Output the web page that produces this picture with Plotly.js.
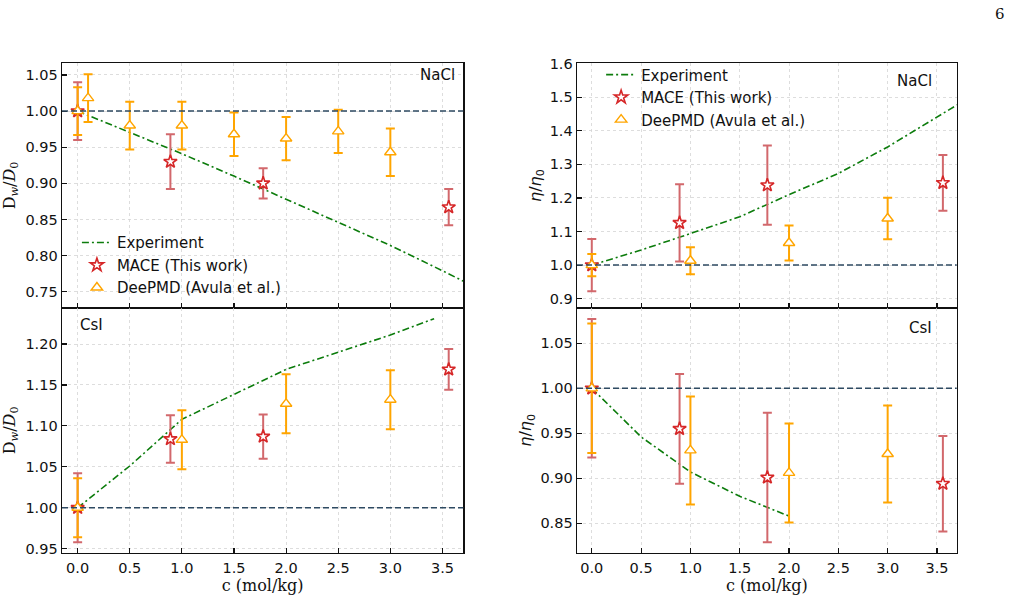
<!DOCTYPE html>
<html><head><meta charset="utf-8">
<script src="https://cdn.plot.ly/plotly-3.0.1.min.js"></script>
<style>html,body{margin:0;padding:0;background:#fff}</style>
</head><body><div id="chart" style="width:1012px;height:596px"></div>
<script>
// ---- NaCl, diffusion (top-left) ----
const naclD_expX = [0, 0.5, 1.0, 1.5, 2.0, 2.5, 3.0, 3.5, 4.0];
const naclD_expY = [1.0, 0.971, 0.941, 0.910, 0.878, 0.846, 0.814, 0.779, 0.743];
const naclD_maceX = [0, 0.89, 1.78, 3.56];
const naclD_maceY = [1.0, 0.930, 0.900, 0.867];
const naclD_maceErr = [0.040, 0.038, 0.021, 0.025];
const naclD_dpX = [0, 0.1, 0.5, 1.0, 1.5, 2.0, 2.5, 3.0];
const naclD_dpY = [1.0, 1.018, 0.980, 0.980, 0.968, 0.962, 0.972, 0.943];
const naclD_dpErr = [0.033, 0.033, 0.033, 0.033, 0.030, 0.030, 0.030, 0.033];

// ---- NaCl, viscosity (top-right) ----
const naclV_expX = [0, 0.5, 1.0, 1.5, 2.0, 2.5, 3.0, 3.5, 4.0];
const naclV_expY = [1.0, 1.045, 1.094, 1.144, 1.210, 1.273, 1.352, 1.440, 1.530];
const naclV_maceX = [0, 0.89, 1.78, 3.56];
const naclV_maceY = [1.0, 1.126, 1.238, 1.245];
const naclV_maceErr = [0.078, 0.115, 0.118, 0.083];
const naclV_dpX = [0, 1.0, 2.0, 3.0];
const naclV_dpY = [1.0, 1.013, 1.066, 1.139];
const naclV_dpErr = [0.033, 0.040, 0.052, 0.062];

// ---- CsI, diffusion (bottom-left) ----
const csiD_expX = [0, 0.5, 1.0, 1.5, 2.0, 2.5, 3.0, 3.42];
const csiD_expY = [1.0, 1.051, 1.108, 1.139, 1.169, 1.190, 1.211, 1.231];
const csiD_maceX = [0, 0.89, 1.78, 3.56];
const csiD_maceY = [1.0, 1.084, 1.087, 1.169];
const csiD_maceErr = [0.042, 0.029, 0.027, 0.025];
const csiD_dpX = [0, 1.0, 2.0, 3.0];
const csiD_dpY = [1.0, 1.083, 1.127, 1.132];
const csiD_dpErr = [0.036, 0.036, 0.036, 0.036];

// ---- CsI, viscosity (bottom-right) ----
const csiV_expX = [0, 0.5, 1.0, 1.5, 2.0];
const csiV_expY = [1.0, 0.946, 0.907, 0.880, 0.858];
const csiV_maceX = [0, 0.89, 1.78, 3.56];
const csiV_maceY = [1.0, 0.955, 0.901, 0.894];
const csiV_maceErr = [0.077, 0.061, 0.072, 0.053];
const csiV_dpX = [0, 1.0, 2.0, 3.0];
const csiV_dpY = [1.0, 0.931, 0.906, 0.927];
const csiV_dpErr = [0.072, 0.060, 0.055, 0.054];

// tick labels
const xTickVals = [0, 0.5, 1.0, 1.5, 2.0, 2.5, 3.0, 3.5];
const xTickText = ['0.0', '0.5', '1.0', '1.5', '2.0', '2.5', '3.0', '3.5'];
const yTicksNaclD = [0.75, 0.80, 0.85, 0.90, 0.95, 1.00, 1.05];
const yTicksNaclV = [0.9, 1.0, 1.1, 1.2, 1.3, 1.4, 1.5, 1.6];
const yTicksCsiD = [0.95, 1.00, 1.05, 1.10, 1.15, 1.20];
const yTicksCsiV = [0.85, 0.90, 0.95, 1.00, 1.05];

const legendNames = ['Experiment', 'MACE (This work)', 'DeePMD (Avula et al.)'];

const GREEN = '#0c7c0c', RED = '#d62728', REDERR = '#d2686c', ORANGE = '#ffa500';

function panel(xa, ya, ex, ey, mx, my, me, dx, dy, de, legendId, show) {
  return [
    {x: ex, y: ey, xaxis: xa, yaxis: ya, type: 'scatter', mode: 'lines', name: legendNames[0],
     line: {color: GREEN, width: 1.6, dash: '7px,3px,2px,3px'}, legend: legendId, showlegend: show},
    {x: mx, y: my, xaxis: xa, yaxis: ya, type: 'scatter', mode: 'markers', name: legendNames[1],
     marker: {symbol: 'star', size: 10, color: 'white', line: {color: RED, width: 1.6}},
     error_y: {type: 'data', array: me, visible: true, color: REDERR, thickness: 2, width: 4.5},
     legend: legendId, showlegend: show},
    {x: dx, y: dy, xaxis: xa, yaxis: ya, type: 'scatter', mode: 'markers', name: legendNames[2],
     marker: {symbol: 'triangle-up', size: 10, color: 'white', line: {color: ORANGE, width: 1.4}},
     error_y: {type: 'data', array: de, visible: true, color: ORANGE, thickness: 2, width: 4.5},
     legend: legendId, showlegend: show}
  ];
}

const data = [].concat(
  panel('x', 'y', naclD_expX, naclD_expY, naclD_maceX, naclD_maceY, naclD_maceErr, naclD_dpX, naclD_dpY, naclD_dpErr, 'legend', true),
  panel('x2', 'y2', naclV_expX, naclV_expY, naclV_maceX, naclV_maceY, naclV_maceErr, naclV_dpX, naclV_dpY, naclV_dpErr, 'legend2', true),
  panel('x3', 'y3', csiD_expX, csiD_expY, csiD_maceX, csiD_maceY, csiD_maceErr, csiD_dpX, csiD_dpY, csiD_dpErr, 'legend', false),
  panel('x4', 'y4', csiV_expX, csiV_expY, csiV_maceX, csiV_maceY, csiV_maceErr, csiV_dpX, csiV_dpY, csiV_dpErr, 'legend', false)
);

const tickFont = {family: 'DejaVu Sans', size: 14.5, color: '#111'};
const XR = [-0.15, 3.70];

function xaxis(domain, anchor, labels) {
  const a = {domain: domain, anchor: anchor, range: XR, tickvals: xTickVals, ticktext: xTickText,
    showticklabels: labels, ticks: 'inside', ticklen: 5, tickwidth: 1.2, tickcolor: '#111',
    showline: true, mirror: true, linecolor: '#111', linewidth: 1.4,
    showgrid: true, gridcolor: '#d4d4d4', griddash: 'dot', gridwidth: 0.8, zeroline: false,
    tickfont: tickFont, ticklabelstandoff: 1};
  if (labels) a.title = {text: 'c (mol/kg)', font: {family: 'DejaVu Serif', size: 16, color: '#111'}, standoff: 0};
  return a;
}
function yaxis(domain, anchor, range, ticks, fmt, title, standoff) {
  return {domain: domain, anchor: anchor, range: range, tickvals: ticks, tickformat: fmt,
    ticks: 'inside', ticklen: 5, tickwidth: 1.2, tickcolor: '#111',
    showline: true, mirror: true, linecolor: '#111', linewidth: 1.4,
    showgrid: true, gridcolor: '#d4d4d4', griddash: 'dot', gridwidth: 0.8, zeroline: false,
    tickfont: tickFont, ticklabelstandoff: 0,
    title: {text: title, font: {family: 'DejaVu Serif', size: 16, color: '#111'}, standoff: standoff}};
}

const XL = [62/1012, 463.3/1012], XRt = [577/1012, 956.7/1012];
const YT = [1 - 308/596, 1 - 63/596], YB = [1 - 552.7/596, 1 - 308/596];

const DLabel = 'D<sub><i>w</i></sub>/<i>D</i><sub>0</sub>';
const ELabel = '<span style="font-family:DejaVu Sans"><i>η</i>/<i>η</i><sub>0</sub></span>';

function hline(xref, yref) {
  return {type: 'line', xref: xref + ' domain', yref: yref, x0: 0, x1: 1, y0: 1, y1: 1,
    line: {color: '#2e4a62', width: 1.5, dash: '6px,3px'}, layer: 'above'};
}
function label(text, xref, yref, x, y, xa, ya) {
  return {text: text, xref: xref + ' domain', yref: yref + ' domain', x: x, y: y, xanchor: xa, yanchor: ya,
    showarrow: false, font: {family: 'DejaVu Sans', size: 15, color: '#111'}};
}

const layout = {
  width: 1012, height: 596, margin: {l: 0, r: 0, t: 0, b: 0},
  paper_bgcolor: 'white', plot_bgcolor: 'white', showlegend: true,
  xaxis: xaxis(XL, 'y', false),
  yaxis: yaxis(YT, 'x', [0.7274, 1.0666], yTicksNaclD, '.2f', DLabel, 8),
  xaxis2: xaxis(XRt, 'y2', false),
  yaxis2: yaxis(YT, 'x2', [0.8723, 1.602], yTicksNaclV, '.1f', ELabel, 4),
  xaxis3: xaxis(XL, 'y3', true),
  yaxis3: yaxis(YB, 'x3', [0.9451, 1.244], yTicksCsiD, '.2f', DLabel, 8),
  xaxis4: xaxis(XRt, 'y4', true),
  yaxis4: yaxis(YB, 'x4', [0.8173, 1.0893], yTicksCsiV, '.2f', ELabel, 4),
  legend: {x: 0.076, y: 0.4895, xanchor: 'left', yanchor: 'bottom', bgcolor: 'rgba(0,0,0,0)',
    font: {family: 'DejaVu Sans', size: 15, color: '#111'}, tracegroupgap: 0},
  legend2: {x: 0.594, y: 0.902, xanchor: 'left', yanchor: 'top', bgcolor: 'rgba(0,0,0,0)',
    font: {family: 'DejaVu Sans', size: 15, color: '#111'}, tracegroupgap: 0},
  shapes: [hline('x', 'y'), hline('x2', 'y2'), hline('x3', 'y3'), hline('x4', 'y4')],
  annotations: [
    label('NaCl', 'x', 'y', 0.985, 0.995, 'right', 'top'),
    label('NaCl', 'x2', 'y2', 0.94, 0.97, 'right', 'top'),
    label('CsI', 'x3', 'y3', 0.04, 0.975, 'left', 'top'),
    label('CsI', 'x4', 'y4', 0.94, 0.965, 'right', 'top'),
    {text: '6', xref: 'paper', yref: 'paper', x: 1000/1012, y: 1 - 14/596, xanchor: 'center', yanchor: 'middle',
     showarrow: false, font: {family: 'DejaVu Serif', size: 15, color: '#111'}}
  ]
};

Plotly.newPlot('chart', data, layout, {displayModeBar: false, staticPlot: true});
</script></body></html>
